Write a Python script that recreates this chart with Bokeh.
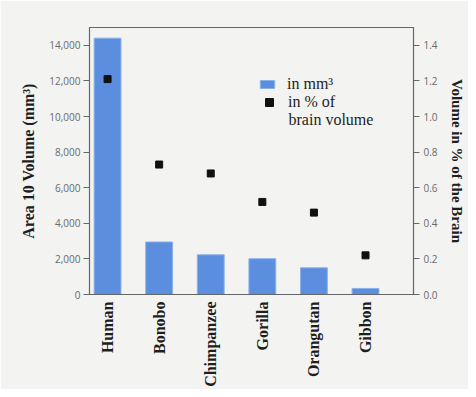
import math
from bokeh.plotting import figure
from bokeh.models import (Range1d, LinearAxis, FixedTicker, NumeralTickFormatter,
                          Legend, LegendItem, ColumnDataSource, Label)
from bokeh.embed import file_html
from bokeh.resources import INLINE

species = ["Human", "Bonobo", "Chimpanzee", "Gorilla", "Orangutan", "Gibbon"]
volume_mm3 = [14400, 2950, 2230, 2010, 1500, 340]
pct_brain = [1.21, 0.73, 0.68, 0.52, 0.46, 0.22]
left_ticks = [0, 2000, 4000, 6000, 8000, 10000, 12000, 14000]
right_ticks = [0.0, 0.2, 0.4, 0.6, 0.8, 1.0, 1.2, 1.4]

xs = list(range(len(species)))
src = ColumnDataSource(dict(x=xs, vol=volume_mm3, pct=pct_brain))

BG = "#f3f3f1"
AX = "#666666"
LBL = "#6a6a6a"
TXT = "#1e1e1e"
SERIF = "Liberation Serif"
SANS = "Open Sans"

p = figure(width=468, height=389, output_backend="svg", toolbar_location=None,
           x_range=Range1d(-0.35, 5.93), y_range=Range1d(0, 15000),
           min_border_left=89, min_border_right=55, min_border_top=27, min_border_bottom=94,
           background_fill_color=BG, border_fill_color=BG)
p.extra_y_ranges = {"pct": Range1d(0, 1.5)}

bars = p.vbar(x="x", top="vol", width=0.52, bottom=0, source=src,
              fill_color="#5b8ede", line_color="#8cb0ea", line_width=1)
pts = p.scatter(x="x", y="pct", y_range_name="pct", source=src, marker="square",
                size=7, fill_color="#111111", line_color="#111111")

p.xgrid.visible = False
p.ygrid.visible = False
p.outline_line_color = AX
p.outline_line_width = 1.2

# x axis
xa = p.xaxis[0]
xa.ticker = FixedTicker(ticks=xs)
xa.major_label_overrides = {i: s for i, s in enumerate(species)}
xa.major_label_orientation = math.pi / 2
xa.major_tick_in = 0
xa.major_tick_out = 0
xa.minor_tick_line_color = None
xa.axis_line_color = AX
xa.axis_line_width = 1.2
xa.major_label_text_font = SERIF
xa.major_label_text_font_style = "bold"
xa.major_label_text_font_size = "16px"
xa.major_label_text_color = TXT
xa.major_label_standoff = 7

# left axis
ya = p.yaxis[0]
ya.ticker = FixedTicker(ticks=left_ticks)
ya.formatter = NumeralTickFormatter(format="0,0")
ya.major_tick_in = 0
ya.major_tick_out = 6
ya.minor_tick_line_color = None
ya.axis_line_color = AX
ya.major_tick_line_color = AX
ya.major_label_text_font = SANS
ya.major_label_text_font_size = "10px"
ya.major_label_text_color = LBL
ya.major_label_standoff = 3
ya.axis_label = "Area 10 Volume (mm³)"
ya.axis_label_text_font = SERIF
ya.axis_label_text_font_style = "bold"
ya.axis_label_text_font_size = "16px"
ya.axis_label_text_color = TXT
ya.axis_label_standoff = 9

# right axis
ra = LinearAxis(y_range_name="pct")
ra.ticker = FixedTicker(ticks=right_ticks)
ra.formatter = NumeralTickFormatter(format="0.0")
ra.major_tick_in = 0
ra.major_tick_out = 6
ra.minor_tick_line_color = None
ra.axis_line_color = AX
ra.major_tick_line_color = AX
ra.major_label_text_font = SANS
ra.major_label_text_font_size = "10px"
ra.major_label_text_color = LBL
ra.major_label_standoff = 4
ra.axis_label = "Volume in % of the Brain"
ra.axis_label_text_font = SERIF
ra.axis_label_text_font_style = "bold"
ra.axis_label_text_font_size = "15px"
ra.axis_label_text_color = TXT
ra.axis_label_standoff = 8
p.add_layout(ra, "right")

leg_common = dict(background_fill_alpha=0, border_line_color=None,
                  label_text_font=SERIF, label_text_font_size="16px",
                  label_text_color=TXT, padding=0, margin=0, spacing=0,
                  label_height=20)
legend1 = Legend(items=[LegendItem(label="in mm³", renderers=[bars])],
                 location=(169, 200), glyph_width=18, glyph_height=10,
                 label_standoff=11, **leg_common)
legend2 = Legend(items=[LegendItem(label="in % of", renderers=[pts])],
                 location=(170, 182), glyph_width=20, glyph_height=20,
                 label_standoff=9, **leg_common)
p.add_layout(legend1)
p.add_layout(legend2)
p.add_layout(Label(x=199, y=175, x_units="screen", y_units="screen",
                   text="brain volume", text_font=SERIF, text_font_size="16px",
                   text_color=TXT, text_baseline="alphabetic"))

open("out.html", "w").write(file_html(p, INLINE))
